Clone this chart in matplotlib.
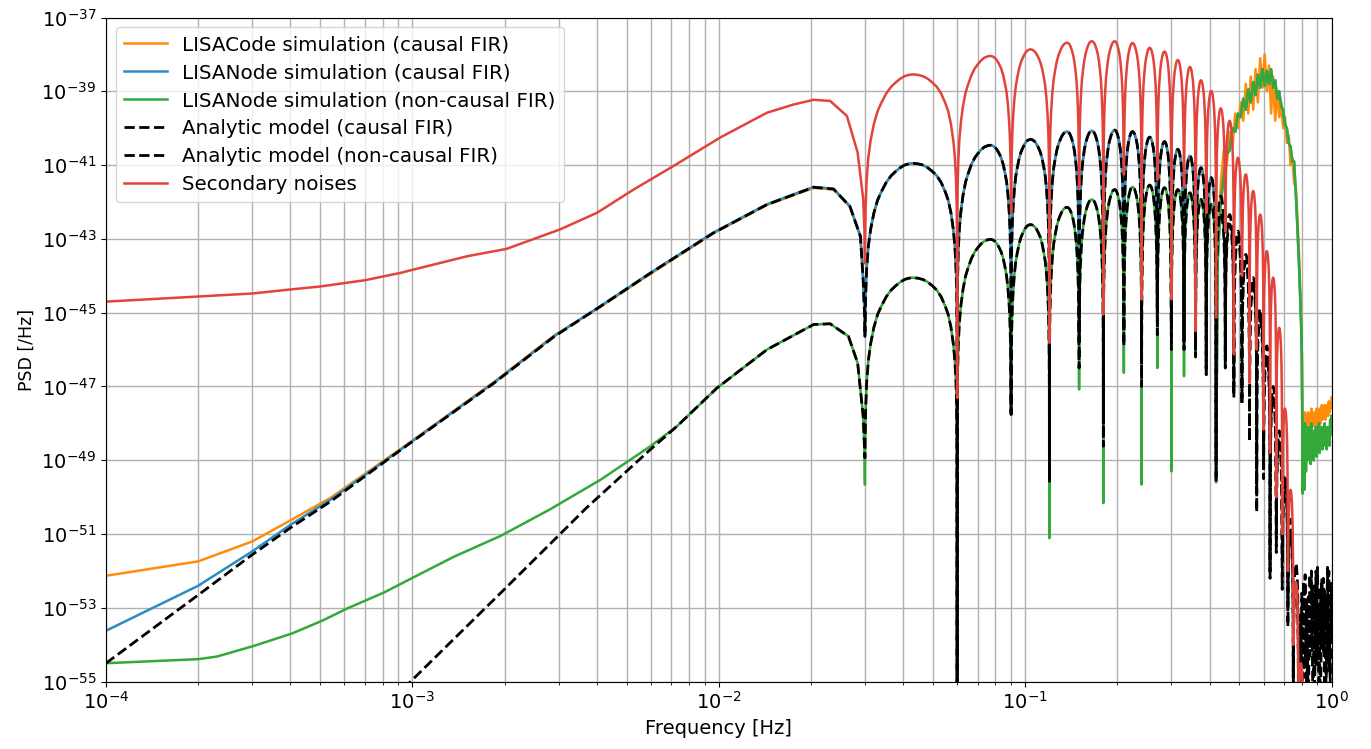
import numpy as np
import matplotlib
matplotlib.use("Agg")
import matplotlib.pyplot as plt
from matplotlib.ticker import NullLocator

# values are log10(PSD)

# low-frequency part (up to the first notch)
red_low_f = [1e-4, 2e-4, 3e-4, 4e-4, 5e-4, 7e-4, 9.16e-4, 1.01e-3, 1.51e-3, 2.03e-3, 3.04e-3,
             4.01e-3, 5.28e-3, 7.13e-3, 1.012e-2, 1.437e-2, 1.75e-2, 2.04e-2, 2.31e-2, 2.62e-2,
             2.84e-2, 0.0296, 0.0299]
red_low = [-44.70, -44.56, -44.48, -44.37, -44.29, -44.12, -43.92, -43.83, -43.47, -43.27, -42.74,
           -42.29, -41.66, -41.02, -40.25, -39.58, -39.36, -39.23, -39.26, -39.67,
           -40.66, -41.9, -42.8]

causal_low_f = [1e-4, 2e-4, 3e-4, 4e-4, 5.4e-4, 9.16e-4, 1.845e-3, 2.9e-3, 4.11e-3, 5.98e-3,
                9.6e-3, 1.437e-2, 2.04e-2, 2.37e-2, 2.68e-2, 2.9e-2, 0.0296, 0.0299]
blue_low = [-53.62, -52.40, -51.47, -50.75, -50.07, -48.71, -46.90, -45.64, -44.82, -43.92,
            -42.83, -42.06, -41.59, -41.64, -42.11, -42.92, -44.1, -45.0]
orange_low = [-52.13, -51.74, -51.20, -50.63, -50.02, -48.69, -46.88, -45.62, -44.84, -43.95,
              -42.85, -42.08, -41.62, -41.66, -42.13, -42.95, -44.1, -45.0]
model_c_low = [-54.50, -52.65, -51.56, -50.83, -50.12, -48.72, -46.91, -45.65, -44.83, -43.93,
               -42.84, -42.07, -41.60, -41.65, -42.12, -42.93, -44.1, -45.0]

green_low_f = [1e-4, 2e-4, 2.3e-4, 3.04e-4, 4.06e-4, 5.1e-4, 6.15e-4, 8.1e-4, 1.01e-3, 1.37e-3,
               1.94e-3, 2.8e-3, 4.11e-3, 5.98e-3, 7.3e-3, 9.87e-3, 1.437e-2, 2.04e-2, 2.31e-2,
               2.65e-2, 2.84e-2, 0.0296, 0.0299]
green_low = [-54.50, -54.39, -54.32, -54.03, -53.69, -53.34, -53.01, -52.58, -52.17, -51.61,
             -51.05, -50.34, -49.53, -48.62, -48.08, -47.04, -46.0, -45.32, -45.30,
             -45.64, -46.36, -47.8, -48.7]

model_nc_low_f = [8e-4, 1.0e-3, 1.94e-3, 3.7e-3, 5.98e-3, 7.3e-3, 9.87e-3, 1.437e-2, 2.04e-2,
                  2.31e-2, 2.65e-2, 2.84e-2, 0.0296, 0.0299]
model_nc_low = [-55.75, -54.95, -52.6, -50.29, -48.71, -48.08, -47.04, -46.0, -45.32,
                -45.30, -45.64, -46.36, -47.8, -48.7]

# notches and lobe maxima
notch_f = [0.03, 0.06, 0.09, 0.12, 0.15, 0.18, 0.21, 0.24, 0.27, 0.30, 0.33, 0.36, 0.39, 0.42,
           0.45, 0.48, 0.51, 0.54, 0.57, 0.60, 0.63, 0.66, 0.69, 0.72, 0.75, 0.78, 0.81]
peak_f = [0.043, 0.077, 0.104, 0.137, 0.165, 0.196, 0.224, 0.255, 0.285, 0.315, 0.345, 0.375,
          0.405, 0.435, 0.465, 0.495, 0.525, 0.555, 0.585, 0.615, 0.645, 0.675, 0.705, 0.735,
          0.765, 0.795]

red_peak = [-38.54, -38.04, -37.86, -37.68, -37.64, -37.64, -37.69, -37.82, -37.92, -38.15,
            -38.34, -38.70, -38.99, -39.46, -39.80, -40.80, -41.25, -41.70, -42.34, -43.33,
            -44.05, -45.41, -47.6, -49.8, -52.3, -54.5]
red_notch = [-43.66, -47.31, -42.29, -45.82, -41.61, -45.05, -41.25, -44.64, -41.40, -44.64,
             -41.60, -45.50, -42.30, -45.13, -42.80, -46.13, -44.0, -46.90, -46.0, -48.17,
             -48.8, -50.0, -51.0, -52.0, -54.0, -56.0, -57.0]

causal_peak = [-40.95, -40.46, -40.30, -40.09, -40.07, -40.05, -40.09, -40.24, -40.36, -40.57,
               -40.75, -41.07, -41.34, -41.84, -42.34, -42.79, -43.42, -44.05, -44.9, -45.9,
               -47.0, -48.2, -49.4, -50.6, -51.8, -53.0]
causal_notch = [-45.64, -56.0, -47.76, -49.57, -45.8, -48.62, -45.5, -46.35, -45.0, -45.4,
                -45.8, -46.0, -46.68, -49.57, -46.3, -47.3, -47.5, -48.5, -50.4, -49.5,
                -52.2, -51.0, -51.7, -52.9, -54.9, -56.0, -57.0]

nc_peak = [-44.05, -43.01, -42.61, -42.14, -41.93, -41.66, -41.59, -41.54, -41.61, -41.66,
           -41.75, -41.93, -42.06, -42.3, -42.6, -43.0, -43.6, -44.3, -45.2, -46.2,
           -47.3, -48.5, -49.7, -51.0, -52.3, -53.6]
nc_notch = [-48.93, -56.0, -47.7, -49.57, -46.5, -48.0, -45.9, -47.0, -45.6, -46.0,
            -46.0, -46.2, -46.5, -49.0, -46.5, -47.0, -47.3, -48.3, -49.9, -49.0,
            -52.0, -51.5, -52.5, -53.5, -55.0, -56.0, -57.0]
green_notch = [-49.66, -56.0, -47.7, -51.11, -47.08, -50.16, -46.63, -49.66, -46.5, -49.3,
               -46.72, -46.2, -46.68, -49.6]

# lobe shape read from the first lobes: fraction of the way notch->peak, drop in decades
prof_s = [0.004, 0.012, 0.03, 0.06, 0.1, 0.16, 0.23, 0.3, 0.4, 0.5, 0.6, 0.7, 0.8, 0.9]
prof_drop = [-4.5, -3.6, -2.85, -2.25, -1.8, -1.35, -1.0, -0.78, -0.52, -0.34, -0.22, -0.12,
             -0.05, -0.015]

# high-frequency bump of the simulations
bump_f = [0.425, 0.435, 0.445, 0.455, 0.465, 0.475, 0.485, 0.495, 0.505, 0.515,
          0.525, 0.535, 0.545, 0.555, 0.565, 0.575, 0.585, 0.595, 0.605, 0.615,
          0.625, 0.635, 0.645, 0.655, 0.665, 0.675, 0.685, 0.695, 0.705, 0.715,
          0.725, 0.735, 0.745, 0.755, 0.765, 0.775, 0.785, 0.795, 0.80, 0.805]
green_bump = [-43.6, -42.0, -41.3, -40.7, -40.6, -40.0, -40.1, -39.6, -39.7, -39.2,
              -39.5, -38.95, -39.3, -38.75, -39.1, -38.55, -38.9, -38.4, -38.85, -38.45,
              -38.8, -38.4, -38.9, -38.7, -39.2, -39.0, -39.4, -39.5, -39.9, -40.0,
              -40.4, -40.5, -40.9, -40.9, -41.8, -42.8, -43.9, -45.2, -46.1, -49.9]
orange_bump = [-43.3, -41.5, -40.6, -41.0, -40.1, -40.5, -39.6, -40.0, -39.3, -39.8,
               -38.8, -39.6, -38.6, -39.5, -38.4, -39.3, -38.1, -38.9, -38.0, -39.0,
               -38.3, -39.6, -38.6, -39.8, -39.0, -39.7, -39.3, -40.0, -39.7, -40.4,
               -40.2, -41.0, -40.8, -41.5, -41.6, -42.5, -43.6, -45.0, -46.0, -48.5]

sim_tail_f = [0.81, 0.815, 0.82, 0.825, 0.83, 0.835, 0.84, 0.845, 0.85, 0.855, 0.86, 0.865,
              0.87, 0.875, 0.88, 0.885, 0.89, 0.895, 0.90, 0.905, 0.91, 0.915, 0.92, 0.925,
              0.93, 0.935, 0.94, 0.945, 0.95, 0.955, 0.96, 0.965, 0.97, 0.975, 0.98, 0.985,
              0.99, 0.995, 1.0]
green_tail = [-48.2, -49.8, -48.0, -49.3, -48.3, -49.0, -48.1, -48.9, -48.4, -49.1,
              -48.0, -48.8, -48.3, -49.0, -48.2, -48.7, -48.1, -48.9, -48.4, -48.6,
              -48.0, -48.8, -48.3, -48.5, -48.1, -48.7, -48.2, -48.6, -48.0, -48.5,
              -48.3, -48.7, -48.1, -48.5, -48.2, -48.6, -47.9, -48.3, -47.8]
orange_tail = [-47.8, -48.2, -47.7, -48.1, -47.8, -48.0, -47.7, -48.1, -47.9, -48.0,
               -47.6, -48.1, -47.8, -48.0, -47.7, -48.1, -47.9, -47.6, -48.0, -47.7,
               -47.9, -47.6, -48.0, -47.8, -47.5, -47.9, -47.7, -47.8, -47.5, -47.9,
               -47.6, -47.8, -47.5, -47.8, -47.4, -47.7, -47.5, -47.6, -47.3]

# analytic models above 0.78 Hz (numerical floor)
model_tail_f = [0.79, 0.80, 0.81, 0.82, 0.83, 0.84, 0.85, 0.86, 0.87, 0.88, 0.89,
                0.90, 0.91, 0.92, 0.93, 0.94, 0.95, 0.96, 0.97, 0.98, 0.99, 1.0]
causal_tail = [-53.2, -55.6, -52.3, -54.6, -52.8, -55.8, -52.1, -54.0, -52.6, -55.5, -52.0,
               -54.4, -52.9, -55.9, -52.2, -54.2, -52.5, -55.3, -51.9, -54.7, -52.4, -53.9]
nc_tail = [-55.7, -52.6, -54.9, -52.1, -55.4, -52.7, -54.3, -52.0, -55.8, -52.4, -54.6,
           -51.9, -55.2, -52.5, -54.1, -52.2, -55.6, -52.8, -54.5, -52.0, -55.1, -52.3]


def lobes(peaks, notches, n):
    f, e = [], []
    for k in range(n):
        a, b, p = notch_f[k], notch_f[k + 1], peak_f[k]
        f.append(a)
        e.append(notches[k])
        for s, d in zip(prof_s, prof_drop):
            f.append(a + s * (p - a))
            e.append(max(peaks[k] + d, notches[k]))
        f.append(p)
        e.append(peaks[k])
        for s, d in zip(prof_s[::-1], prof_drop[::-1]):
            f.append(b - s * (b - p))
            e.append(max(peaks[k] + d, notches[k + 1]))
    f.append(notch_f[n])
    e.append(notches[n])
    return f, e


def curve(*parts):
    f, e = [], []
    for pf, pe in parts:
        f += list(pf)
        e += list(pe)
    return np.array(f), 10.0 ** np.array(e)


f_or, p_or = curve((causal_low_f, orange_low), lobes(causal_peak, causal_notch, 13),
                   (bump_f, orange_bump), (sim_tail_f, orange_tail))
f_bl, p_bl = curve((causal_low_f, blue_low), lobes(causal_peak, causal_notch, 13),
                   (bump_f, green_bump), (sim_tail_f, green_tail))
f_gr, p_gr = curve((green_low_f, green_low), lobes(nc_peak, green_notch, 13),
                   (bump_f, green_bump), (sim_tail_f, green_tail))
f_mc, p_mc = curve((causal_low_f, model_c_low), lobes(causal_peak, causal_notch, 25),
                   (model_tail_f, causal_tail))
f_mn, p_mn = curve((model_nc_low_f, model_nc_low), lobes(nc_peak, nc_notch, 25),
                   (model_tail_f, nc_tail))
f_rd, p_rd = curve((red_low_f, red_low), lobes(red_peak, red_notch, 26))

fig = plt.figure(figsize=(13.71, 7.49), dpi=100)
ax = fig.add_axes([0.0773, 0.0899, 0.8939, 0.8867])

ax.loglog(f_or, p_or, color="#ff8c0a", lw=1.8, label="LISACode simulation (causal FIR)")
ax.loglog(f_bl, p_bl, color="#2b8cc4", lw=1.8, label="LISANode simulation (causal FIR)")
ax.loglog(f_gr, p_gr, color="#33a93a", lw=1.8, label="LISANode simulation (non-causal FIR)")
ax.loglog(f_mc, p_mc, "k--", lw=2, label="Analytic model (causal FIR)")
ax.loglog(f_mn, p_mn, "k--", lw=2, label="Analytic model (non-causal FIR)")
ax.loglog(f_rd, p_rd, color="#e2433b", lw=1.8, label="Secondary noises")

ax.set_xlim(1e-4, 1)
ax.set_ylim(1e-55, 1e-37)
ax.set_yticks([10.0 ** p for p in range(-55, -36, 2)])
ax.yaxis.set_minor_locator(NullLocator())
ax.grid(which="both", color="#b0b0b0", lw=1.0)
ax.tick_params(labelsize=14)
ax.set_xlabel("Frequency [Hz]", fontsize=14)
ax.set_ylabel("PSD [/Hz]", fontsize=12.5)
ax.legend(loc="upper left", fontsize=14.3, labelspacing=0.45, handlelength=2.15)

fig.savefig("out.png", dpi=100)
